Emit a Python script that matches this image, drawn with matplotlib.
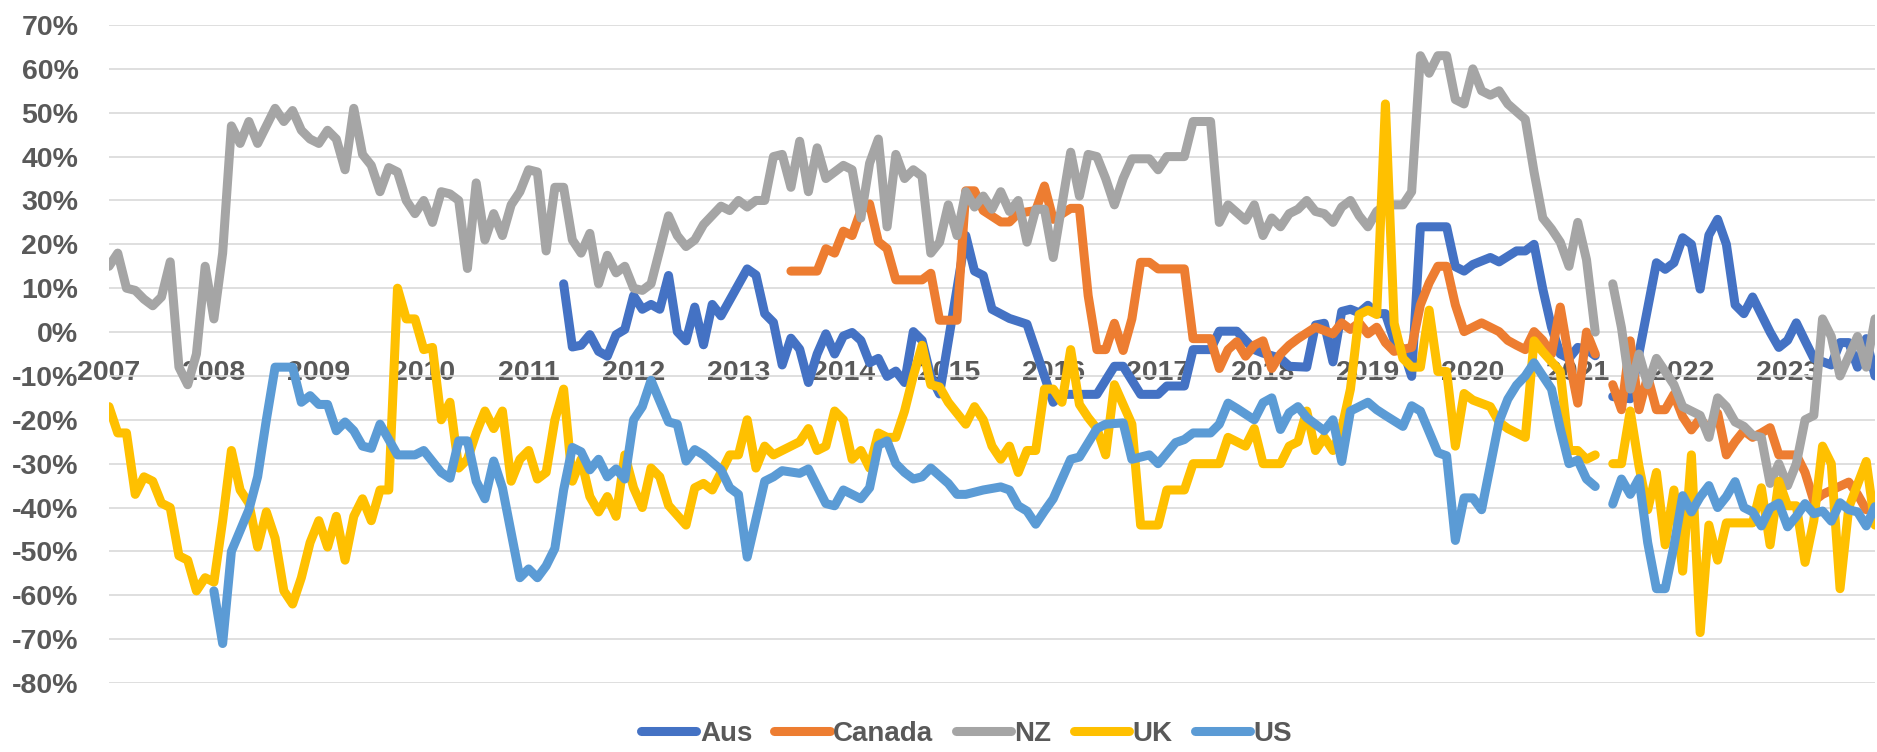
import numpy as np
import matplotlib
matplotlib.use("Agg")
import matplotlib.pyplot as plt

plt.rcParams['font.family'] = ['Liberation Sans', 'DejaVu Sans']

nan = np.nan

# month index 0 = Jan 2007; vertices, nan = missing month
years = [str(y) for y in range(2007, 2024)]
year_pos = list(range(0, 193, 12))

aus_m = [52, 53, 54, 55, 56, 57, 58, 59, 60, 61, 62, 63, 64, 65, 66, 67, 68, 69, 70, 73, 74, 75, 76, 77, 78, 79,
         80, 81, 82, 83, 84, 85, 86, 87, 88, 89, 90, 91, 92, 93, 94, 95, 98, 99, 100, 101, 103, 105, 108, 109,
         113, 115, 116, 118, 120, 121, 123, 124, 126, 127, 129, 131, 132, 134, 135, 137, 138, 139, 140, 141,
         142, 143, 144, 145, 146, 147, 148, 149, 150, 153, 154, 155, 156, 158, 159, 161, 162, 163, 164, 165,
         166, 167, 168, 169, 170, 171, 172, 174, 177, 178, 179, 180, 181, 182, 183, 184, 185, 186, 187, 188,
         189, 190, 191, 192, 193, 194, 195, 197, 198, 199, 200, 201, 202]
aus_v = [11, -3.4, -3, -0.6, -4.4, -5.5, -0.6, 0.6, 8.3, 5.2, 6.3, 5.2, 12.9, 0.1, -2, 5.7, -2.9, 6.3, 3.7, 14.4,
         13, 4.2, 2.2, -7.5, -1.4, -3.9, -11.5, -5, -0.4, -5, -0.9, -0.1, -1.9, -7, -6, -10.1, -8.9, -11.5, 0.1,
         -1.9, -10.1, -14.1, 22, 13.9, 12.9, 5.2, 3.1, 1.8, -16, -14.2, -14.2, -7.8, -7.8, -14.2, -14.2, -12.3,
         -12.3, -4, -4, 0.2, 0.2, -4, -4.8, -6, -7.8, -8, 1.6, 2, -6.8, 4.7, 5.2, 4.4, 6.1, 4.2, 4.2, -1.9, -3.9,
         -10.1, 24, 24, 14.9, 13.9, 15.4, 17, 16, 18.5, 18.5, 20, 9.8, 1.1, -5, -6, -3.5, -3.9, -5.4, nan, -14.7,
         -15.2, 15.8, 14.3, 15.8, 21.5, 20, 9.8, 22.1, 25.7, 20, 6.2, 4.2, 8, 4, 0, -3.5, -1.9, 2.1, -2, -6,
         -7.5, -2.4, -2.4, -8, -1.5, -10]

can_m = [78, 81, 82, 83, 84, 85, 86, 87, 88, 89, 90, 93, 94, 95, 97, 98, 99, 100, 102, 103, 104, 106, 107, 108,
         110, 111, 112, 113, 114, 115, 116, 117, 118, 119, 120, 123, 124, 126, 127, 128, 129, 130, 131, 132, 133,
         134, 135, 136, 138, 140, 141, 142, 143, 144, 145, 146, 147, 149, 150, 151, 152, 153, 154, 155, 156, 157,
         159, 160, 161, 162, 163, 164, 165, 166, 167, 168, 169, 170, 171, 172, 173, 174, 175, 176, 177, 178, 179,
         180, 181, 182, 183, 184, 185, 186, 187, 188, 189, 190, 191, 193, 194, 195, 196, 199, 200, 201]
can_v = [13.9, 13.9, 19, 18, 23, 22, 27.7, 29.2, 20.6, 19, 11.9, 11.9, 13.4, 2.7, 2.7, 32.2, 32.2, 27.7, 25.1,
         25.1, 27.1, 27.7, 33.3, 25.7, 28.2, 28.2, 8.3, -4, -4, 2, -4.2, 3, 15.9, 15.9, 14.4, 14.4, -1.5, -1.5,
         -8.3, -4, -2.2, -5.5, -3, -2, -8.3, -5, -3, -1.5, 1.1, -0.4, 2.1, 0.6, 2.1, -0.4, 1.1, -2.4, -4.4, -3.5,
         6.2, 11.2, 15, 15, 6.2, 0.1, 1.1, 2.1, 0.1, -1.9, -3, -4, 0.1, -1.9, -5, 5.7, -6, -16.2, 0, -5, nan, -12,
         -17.7, -2, -17.7, -10.1, -17.7, -17.7, -14.2, -19.3, -22.3, -19.7, -22.3, -18.5, -28, -25, -22.5, -24,
         -23, -21.8, -28, -28, -32, -38.5, -37, -34.2, -37, -40.5]

nz_m = [0, 1, 2, 3, 4, 5, 6, 7, 8, 9, 10, 11, 12, 13, 14, 15, 16, 17, 19, 20, 21, 22, 23, 24, 25, 26, 27, 28, 29,
        30, 31, 32, 33, 34, 35, 36, 37, 38, 39, 40, 41, 42, 43, 44, 45, 46, 47, 48, 49, 50, 51, 52, 53, 54, 55,
        56, 57, 58, 59, 60, 61, 62, 64, 65, 66, 67, 68, 70, 71, 72, 73, 74, 75, 76, 77, 78, 79, 80, 81, 82, 83,
        84, 85, 86, 87, 88, 89, 90, 91, 92, 93, 94, 95, 96, 97, 98, 99, 100, 101, 102, 103, 104, 105, 106, 107,
        108, 110, 111, 112, 113, 114, 115, 116, 117, 119, 120, 121, 123, 124, 126, 127, 128, 130, 131, 132, 133,
        134, 135, 136, 137, 138, 139, 140, 141, 142, 143, 144, 145, 146, 148, 149, 150, 151, 152, 153, 154, 155,
        156, 157, 158, 159, 160, 162, 163, 164, 165, 166, 167, 168, 169, 170, 171, 172, 173, 174, 175, 176, 177,
        178, 179, 180, 181, 182, 183, 184, 185, 186, 187, 188, 189, 190, 191, 192, 193, 194, 195, 196, 197, 198,
        200, 201, 202]
nz_v = [15, 18, 10, 9.5, 7.5, 6, 8, 16, -8, -12, -5, 15, 3, 18, 47, 43, 48, 43, 51, 48, 50.5, 46, 44, 43, 46, 44,
        37, 51, 40.5, 38, 32, 37.5, 36.5, 30, 27, 30, 25, 32, 31.5, 30, 14.5, 34, 21, 27, 22, 29, 32, 37, 36.5,
        18.5, 33, 33, 21, 18, 22.5, 11, 17.5, 13.5, 15, 10, 9.5, 11, 26.5, 22, 19.5, 21, 24.5, 28.7, 27.7, 30,
        28.5, 30, 30, 40, 40.5, 33, 43.5, 32, 42, 35, 36.5, 38, 37, 26, 38.5, 44, 24, 40.5, 35, 37, 35.5, 18,
        20.5, 29, 22, 32, 28.5, 31, 28, 32, 27.5, 30, 20.5, 28, 28, 17, 41, 31, 40.5, 40, 35, 29, 35, 39.5, 39.5,
        37, 40, 40, 48, 48, 25, 29, 25.5, 29, 22, 26, 24, 27, 28, 30, 27.5, 27, 25, 28.5, 30, 26.5, 24, 27.5, 29,
        29, 32, 63, 59, 63, 63, 53, 52, 60, 55, 54, 55, 52, 48.5, 36.5, 26, 23.5, 20.5, 15, 25, 16.5, 0, nan, 11,
        1, -13, -5, -12, -6, -9, -12, -17, -18, -19, -24, -15, -17, -20.5, -21.5, -23.5, -24, -34.5, -30, -35,
        -30, -20, -19, 3, -1, -10, -1, -8, 3]

uk_m = [0, 1, 2, 3, 4, 5, 6, 7, 8, 9, 10, 11, 12, 13, 14, 15, 16, 17, 18, 19, 20, 21, 22, 23, 24, 25, 26, 27, 28,
        29, 30, 31, 32, 33, 34, 35, 36, 37, 38, 39, 40, 41, 42, 43, 44, 45, 46, 47, 48, 49, 50, 51, 52, 53, 54,
        55, 56, 57, 58, 59, 60, 61, 62, 63, 64, 66, 67, 68, 69, 71, 72, 73, 74, 75, 76, 78, 79, 80, 81, 82, 83,
        84, 85, 86, 87, 88, 89, 90, 91, 92, 93, 94, 95, 96, 98, 99, 100, 101, 102, 103, 104, 105, 106, 107, 108,
        109, 110, 111, 112, 113, 114, 115, 117, 118, 120, 121, 123, 124, 127, 128, 130, 131, 132, 134, 135, 136,
        137, 138, 139, 140, 141, 142, 143, 144, 145, 146, 147, 148, 149, 150, 151, 152, 153, 154, 155, 156, 158,
        159, 160, 162, 163, 164, 166, 167, 168, 169, 170, 171, 172, 173, 174, 175, 176, 177, 178, 179, 180, 181,
        182, 183, 184, 185, 188, 189, 190, 191, 192, 193, 194, 195, 196, 197, 198, 199, 201, 202]
uk_v = [-17, -23, -23, -37, -33, -34, -39, -40, -51, -52, -59, -56, -57, -43, -27, -36, -39, -49, -41, -47, -59,
        -62, -56, -48, -43, -49, -42, -52, -42, -38, -43, -36, -36, 10, 3, 3, -4, -3.5, -20, -16, -31, -29, -23,
        -18, -22, -18, -34, -29, -27, -33.5, -32, -20, -13, -34, -29, -37.5, -41, -37.5, -42, -28, -35.5, -40,
        -31, -33, -39.5, -44, -35.5, -34.5, -36, -28, -28, -20, -31, -26, -28, -26, -25, -22, -27, -26, -18, -20,
        -29, -27, -31, -23, -24, -24, -18, -10, -3, -12, -12.5, -16, -21, -17, -20, -26, -29, -26, -32, -27, -27,
        -13, -13, -16, -4, -16.5, -19.5, -22, -28, -12, -21, -44, -44, -36, -36, -30, -30, -24, -26, -22, -30,
        -30, -26, -25, -18, -27, -24, -27, -22, -13, 4, 5, 4, 52, 2, -6, -8, -8, 5, -9, -9, -26, -14, -15.5, -17,
        -20.5, -22, -24, -2, -4.5, -9, -27, -27, -29, -28, nan, -30, -30, -18, -30.5, -40.5, -32, -48.5, -36,
        -54.5, -28, -68.5, -44, -52, -43.5, -43.5, -35.5, -48.5, -34, -39.6, -39.6, -52.5, -43, -26, -30, -58.5,
        -40, -29.5, -44]

us_m = [12, 13, 14, 16, 17, 18, 19, 21, 22, 23, 24, 25, 26, 27, 28, 29, 30, 31, 32, 33, 35, 36, 37, 38, 39, 40,
        41, 42, 43, 44, 45, 47, 48, 49, 50, 51, 52, 53, 54, 55, 56, 57, 58, 59, 60, 61, 62, 64, 65, 66, 67, 68,
        70, 71, 72, 73, 75, 76, 77, 79, 80, 82, 83, 84, 85, 86, 87, 88, 89, 90, 91, 92, 93, 94, 96, 97, 98, 100,
        102, 103, 104, 105, 106, 107, 108, 110, 111, 113, 114, 116, 117, 119, 120, 122, 123, 124, 126, 127, 128,
        129, 131, 132, 133, 134, 135, 136, 137, 138, 139, 140, 141, 142, 143, 144, 145, 146, 148, 149, 150, 152,
        153, 154, 155, 156, 157, 159, 160, 161, 162, 163, 164, 165, 166, 167, 168, 169, 170, 171, 172, 173, 174,
        175, 176, 177, 178, 179, 180, 181, 182, 183, 184, 185, 186, 187, 188, 189, 190, 191, 192, 193, 194, 195,
        196, 197, 198, 199, 200, 201, 202]
us_v = [-59, -71, -50, -40.5, -33, -20, -8, -8, -16, -14.5, -16.5, -16.5, -22.5, -20.5, -22.5, -26, -26.5, -21,
        -24.5, -28, -28, -27, -29.5, -32, -33.3, -24.8, -24.8, -34, -38, -29.4, -35.5, -56, -54, -56, -53.3,
        -49.3, -36, -26.3, -27.3, -31.4, -29, -33, -31.2, -33.5, -20, -17, -11, -20.5, -21, -29.4, -26.8, -28,
        -31.4, -35.5, -37, -51.3, -34, -33, -31.6, -32.2, -31.2, -39.1, -39.6, -36, -37, -38, -35.5, -25.8, -24.8,
        -30, -32, -33.5, -33, -31, -34.5, -37, -37, -36, -35.3, -36, -39.6, -40.8, -43.8, -40.8, -38, -29, -28.5,
        -22, -21, -20.7, -29, -28, -30, -25.2, -24.5, -23, -23, -21, -16.2, -17.4, -20, -16.1, -15, -22.2, -18.4,
        -17, -19.5, -21, -22.5, -20, -29.5, -18, -17, -16, -17.7, -19, -21.5, -16.8, -18, -27.5, -28.2, -47.5,
        -37.8, -37.8, -40.5, -20.4, -15.3, -12.1, -10, -7, -10, -13, -22, -30, -29.2, -33.5, -35.2, nan, -39.2,
        -33.5, -37, -33.4, -48, -58.5, -58.5, -48.8, -37.3, -41, -37.6, -35, -40, -37.5, -34.1, -40, -41, -44.2,
        -40.1, -39, -44.4, -42, -39.1, -41.4, -40.8, -43.1, -38.9, -40.5, -41, -44.2, -39.8]

series = [("Aus", aus_m, aus_v, "#4472C4"),
          ("Canada", can_m, can_v, "#ED7D31"),
          ("NZ", nz_m, nz_v, "#A5A5A5"),
          ("UK", uk_m, uk_v, "#FFC000"),
          ("US", us_m, us_v, "#5B9BD5")]

fig = plt.figure(figsize=(18.77, 7.52), dpi=100)
ax = fig.add_axes([109 / 1877, 69 / 752, 1766 / 1877, 658 / 752])

for name, m, v, c in series:
    ax.plot(m, v, color=c, lw=6.5, label=name,
            solid_joinstyle='round', solid_capstyle='round')

ax.set_xlim(0, 202)
ax.set_ylim(-80, 70)
ax.set_yticks(range(-80, 71, 10))
ax.set_yticklabels([f"{t}%" for t in range(-80, 71, 10)])
ax.set_xticks(year_pos)
ax.set_xticklabels(years)

ax.grid(axis='y', color='#D9D9D9', lw=1.2)
ax.set_axisbelow(True)
for s in ax.spines.values():
    s.set_visible(False)
ax.spines['bottom'].set_position(('data', 0))

ax.tick_params(axis='both', length=0, labelsize=20.5, labelcolor='#595959')
ax.tick_params(axis='y', pad=22)
ax.tick_params(axis='x', pad=20)
for lbl in ax.get_xticklabels() + ax.get_yticklabels():
    lbl.set_fontweight('bold')

leg = fig.legend(loc='center', bbox_to_anchor=(0.515, 18 / 752), ncol=5, frameon=False,
                 handlelength=2.0, handletextpad=0.12, columnspacing=0.8,
                 prop={'size': 20, 'weight': 'bold'})
for t in leg.get_texts():
    t.set_color('#595959')

fig.savefig("out.png", dpi=100)
